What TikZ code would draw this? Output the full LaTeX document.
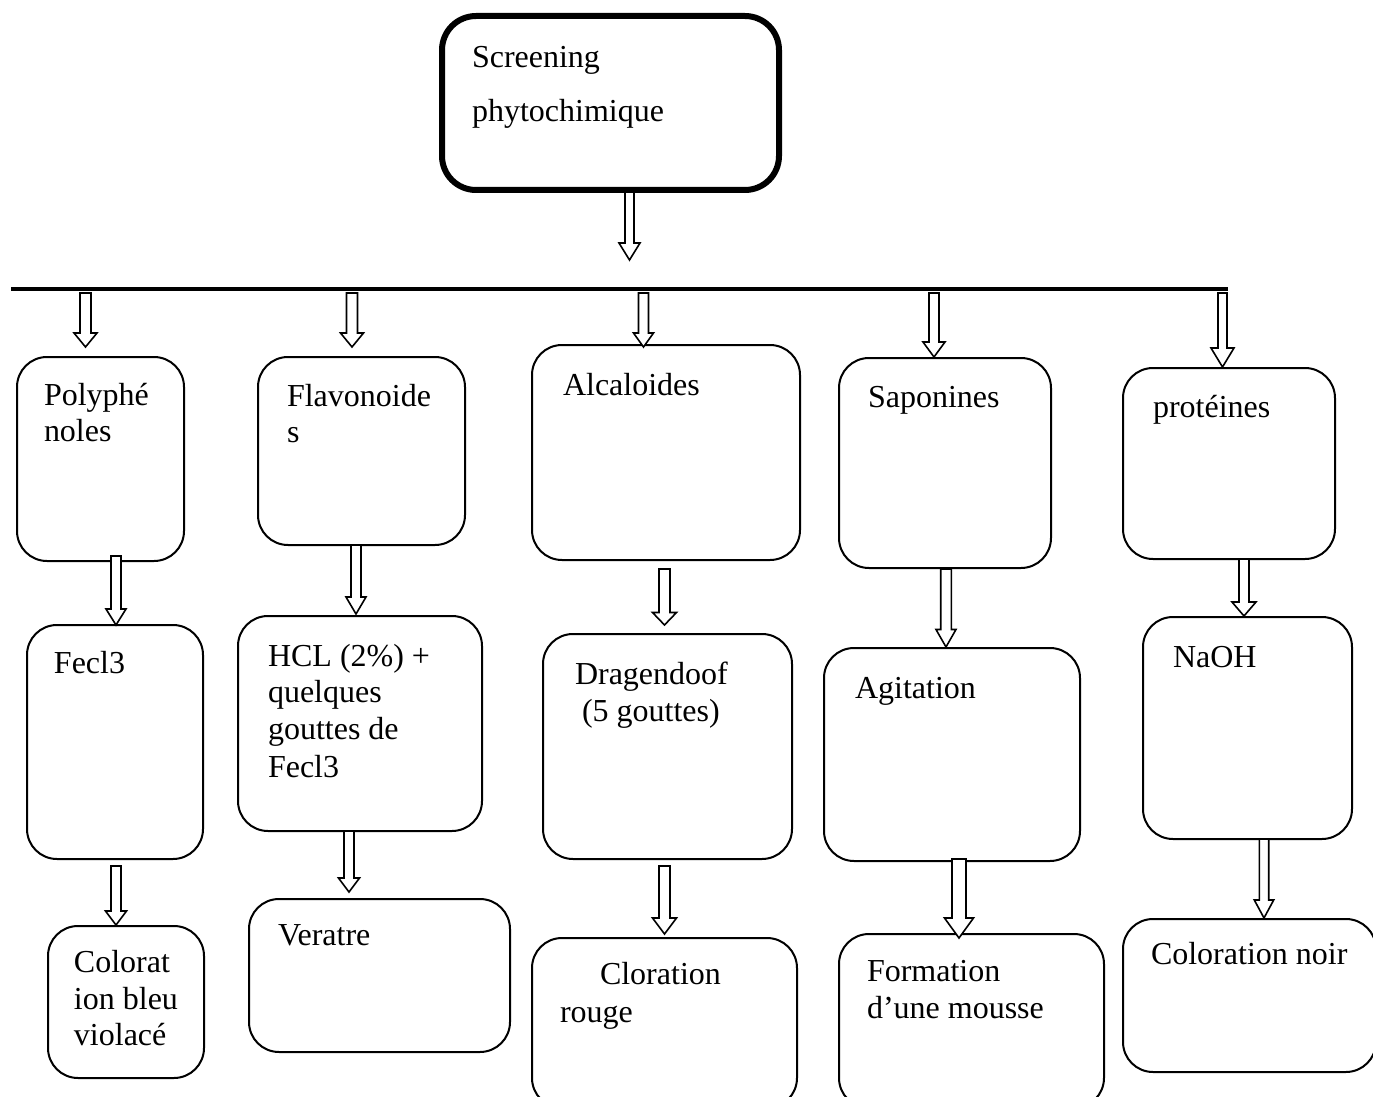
\documentclass[tikz,border=0pt]{standalone}
\usepackage{fontspec}
\setmainfont{Liberation Serif}
\usetikzlibrary{calc}
\tikzset{
  box/.style={draw=black, line width=1pt, rounded corners=15pt, fill=white, inner sep=0pt, outer sep=0pt, anchor=north west},
  topbox/.style={box, line width=3pt, rounded corners=17pt},
  txt/.style={anchor=base west, inner sep=0pt, outer sep=0pt, font=\fontsize{16pt}{18.5pt}\selectfont},
  barrowline/.style={draw=black, line width=0.8pt, fill=white, line join=miter},
  mainline/.style={line width=2pt}
}
% box: name, x1, y1, x2, y2 (pixel coordinates)
\newcommand\mkbox[6][box]{\node[#1, minimum width={(#5-#3)*0.5pt}, minimum height={(#6-#4)*0.5pt}] (#2) at (#3,#4) {};}
% block arrow: start coord, tip coord, half shaft, half head, head length
\newcommand\blockarrow[5]{%
  \draw[barrowline] ($(#1)+(-#3,0)$) -- ($(#1)+(#3,0)$) -- ($(#2)+(#3,-#5)$) -- ($(#2)+(#4,-#5)$) -- (#2) -- ($(#2)+(-#4,-#5)$) -- ($(#2)+(-#3,-#5)$) -- cycle;}
\begin{document}
\begin{tikzpicture}[x=0.5pt, y=-0.5pt]
\useasboundingbox (0,0) rectangle (1373,1097);
\clip (0,0) rectangle (1373,1097);
% boxes
\mkbox[topbox]{top}{442}{16}{779}{190}
\mkbox{poly}{17}{357}{184}{561}
\mkbox{flav}{258}{357}{465}{545}
\mkbox{alc}{532}{345}{800}{560}
\mkbox{sap}{839}{358}{1051}{568}
\mkbox{prot}{1123}{368}{1335}{559}
\mkbox{fecl}{27}{625}{203}{859}
\mkbox{hcl}{238}{616}{482}{831}
\mkbox{drag}{543}{634}{792}{859}
\mkbox{agit}{824}{648}{1080}{861}
\mkbox{naoh}{1143}{617}{1352}{839}
\mkbox{colv}{48}{926}{204}{1078}
\mkbox{ver}{249}{899}{510}{1052}
\mkbox{clor}{532}{938}{797}{1108}
\mkbox{form}{839}{934}{1104}{1108}
\mkbox{noir}{1123}{919}{1376}{1072}
% texts
\node[txt] (t1) at (472,68) {Screening};
\node[txt] (t2) at (472,122) {phytochimique};
\node[txt] (p1) at (44,405) {Polyphé};
\node[txt] (p2) at (44,441) {noles};
\node[txt] (f1) at (287,407) {Flavonoide};
\node[txt] (f2) at (287,443) {s};
\node[txt] (a1) at (563,395) {Alcaloides};
\node[txt] (s1) at (868,408) {Saponines};
\node[txt] (r1) at (1153,417) {protéines};
\node[txt] (fe1) at (54,673) {Fecl3};
\node[txt] (h1) at (268,666) {HCL (2\%) +};
\node[txt] (h2) at (268,702) {quelques};
\node[txt] (h3) at (268,739) {gouttes de};
\node[txt] (h4) at (268,777) {Fecl3};
\node[txt] (d1) at (575,684) {Dragendoof};
\node[txt] (d2) at (582,721) {(5 gouttes)};
\node[txt] (g1) at (855,698) {Agitation};
\node[txt] (n1) at (1173,667) {NaOH};
\node[txt] (c1) at (74,972) {Colorat};
\node[txt] (c2) at (74,1009) {ion bleu};
\node[txt] (c3) at (74,1045) {violacé};
\node[txt] (v1) at (278,945) {Veratre};
\node[txt] (k1) at (600,984) {Cloration};
\node[txt] (k2) at (560,1022) {rouge};
\node[txt] (m1) at (867,981) {Formation};
\node[txt] (m2) at (867,1018) {d’une mousse};
\node[txt] (o1) at (1151,964) {Coloration noir};
% horizontal distribution line
\coordinate (hl0) at (11,289);
\coordinate (hl1) at (1228,289);
\draw[mainline] (hl0) -- (hl1);
% arrow coordinates
\coordinate (A0s) at (629.5,192); \coordinate (A0e) at (629.5,260);
\coordinate (B1s) at (85.5,293);  \coordinate (B1e) at (85.5,347);
\coordinate (B2s) at (352,293);   \coordinate (B2e) at (352,347);
\coordinate (B3s) at (643.5,293); \coordinate (B3e) at (643.5,347);
\coordinate (B4s) at (934,293);   \coordinate (B4e) at (934,357);
\coordinate (B5s) at (1222.5,293);\coordinate (B5e) at (1222.5,367);
\coordinate (C1s) at (116,556);   \coordinate (C1e) at (116,625);
\coordinate (C2s) at (356,545);   \coordinate (C2e) at (356,614);
\coordinate (C3s) at (664.5,569); \coordinate (C3e) at (664.5,625);
\coordinate (C4s) at (946,569);   \coordinate (C4e) at (946,647);
\coordinate (C5s) at (1244,559);  \coordinate (C5e) at (1244,616);
\coordinate (D1s) at (116,866);   \coordinate (D1e) at (116,925);
\coordinate (D2s) at (349,831);   \coordinate (D2e) at (349,892);
\coordinate (D3s) at (664.5,866); \coordinate (D3e) at (664.5,934);
\coordinate (D4s) at (959,859);   \coordinate (D4e) at (959,938);
\coordinate (D5s) at (1264,839);  \coordinate (D5e) at (1264,918);
\blockarrow{A0s}{A0e}{4.5}{10.5}{17}
\blockarrow{B1s}{B1e}{5.5}{11.5}{14}
\blockarrow{B2s}{B2e}{5.5}{11.5}{14}
\blockarrow{B3s}{B3e}{5}{10}{14}
\blockarrow{B4s}{B4e}{5}{11}{15}
\blockarrow{B5s}{B5e}{4.5}{11.5}{19}
\blockarrow{C1s}{C1e}{5}{10}{16}
\blockarrow{C2s}{C2e}{5}{10}{17}
\blockarrow{C3s}{C3e}{5.5}{12}{12.5}
\blockarrow{C4s}{C4e}{5.3}{10}{17.5}
\blockarrow{C5s}{C5e}{5}{12}{14}
\blockarrow{D1s}{D1e}{5}{10.5}{14}
\blockarrow{D2s}{D2e}{5}{10.5}{14}
\blockarrow{D3s}{D3e}{5.5}{12}{16}
\blockarrow{D4s}{D4e}{7}{14.5}{20}
\blockarrow{D5s}{D5e}{4.7}{9.7}{18}
\end{tikzpicture}
\end{document}
